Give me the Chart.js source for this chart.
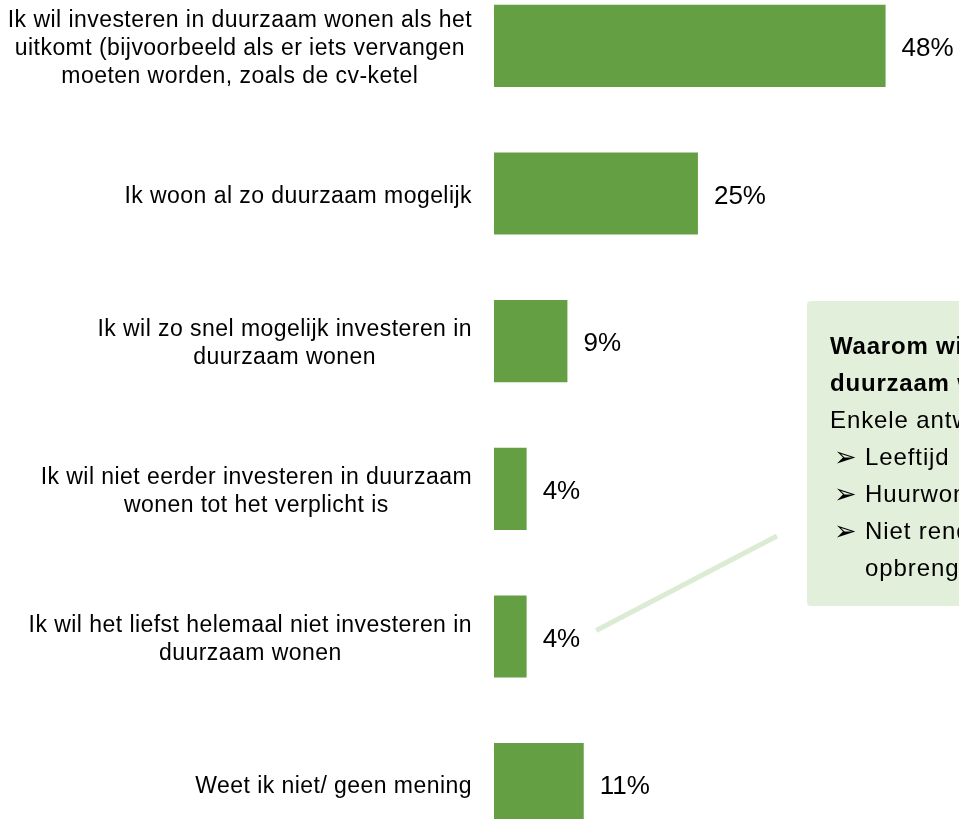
<!DOCTYPE html>
<html lang="nl">
<head>
<meta charset="utf-8">
<title>Investeren in duurzaam wonen</title>
<script src="https://cdn.jsdelivr.net/npm/chart.js@4"></script>
<style>
    html, body {
        margin: 0;
        padding: 0;
        width: 959px;
        height: 819px;
        overflow: hidden;
        background: #ffffff;
        font-family: "Liberation Sans", Arial, sans-serif;
    }
    .chart-wrap {
        position: absolute;
        left: 0;
        top: -28px;
        width: 959px;
        height: 886px;
    }
    .callout {
        position: absolute;
        left: 807px;
        top: 301px;
        width: 320px;
        height: 305px;
        background: #e2efda;
        border-radius: 4px;
        padding: 26px 0 0 23px;
        box-sizing: border-box;
        white-space: nowrap;
        color: #000;
        line-height: 37px;
    }
    .callout .title {
        font-weight: bold;
        font-size: 24px;
        letter-spacing: 0.8px;
    }
    .callout .line {
        font-size: 24px;
        letter-spacing: 0.9px;
    }
    .callout .bullet {
        display: inline-block;
        width: 31px;
        margin-left: 4px;
        font-family: "DejaVu Sans", sans-serif;
        font-size: 27px;
        line-height: 37px;
        vertical-align: top;
        letter-spacing: 0;
    }
    .callout .indent {
        padding-left: 35px;
    }
</style>
</head>
<body>

<div class="chart-wrap">
    <canvas id="surveyChart" width="959" height="886"></canvas>
</div>

<div class="callout" id="callout">
    <div class="title">Waarom wilt u niet investeren in</div>
    <div class="title">duurzaam wonen?</div>
    <div class="line">Enkele antwoorden:</div>
    <div class="line"><span class="bullet">&#10146;</span>Leeftijd</div>
    <div class="line"><span class="bullet">&#10146;</span>Huurwoning</div>
    <div class="line"><span class="bullet">&#10146;</span>Niet rendabel, kost meer dan het</div>
    <div class="line indent">opbrengt</div>
</div>

<script>
// Answer categories (each entry is one wrapped label)
const categories = [
    ['Ik wil investeren in duurzaam wonen als het', 'uitkomt (bijvoorbeeld als er iets vervangen', 'moeten worden, zoals de cv-ketel'],
    ['Ik woon al zo duurzaam mogelijk'],
    ['Ik wil zo snel mogelijk investeren in', 'duurzaam wonen'],
    ['Ik wil niet eerder investeren in duurzaam', 'wonen tot het verplicht is'],
    ['Ik wil het liefst helemaal niet investeren in', 'duurzaam wonen'],
    ['Weet ik niet/ geen mening']
];

// Share of respondents (%)
const percentages = [48, 25, 9, 4, 4, 11];

const barColor = '#64a043';
const calloutLineColor = '#dcecd4';

// Category labels, right-aligned block with centred lines
const categoryLabels = {
    id: 'categoryLabels',
    afterDraw(chart) {
        const ctx = chart.ctx;
        const yScale = chart.scales.y;
        const right = chart.chartArea.left - 22;
        const lineHeight = 28;
        ctx.save();
        ctx.font = '23px "Liberation Sans", Arial, sans-serif';
        ctx.letterSpacing = '0.45px';
        ctx.fillStyle = '#000000';
        ctx.textAlign = 'center';
        ctx.textBaseline = 'alphabetic';
        categories.forEach((lines, i) => {
            const cy = yScale.getPixelForValue(i);
            const widest = Math.max(...lines.map(l => ctx.measureText(l).width));
            const cx = right - widest / 2;
            lines.forEach((line, j) => {
                const mid = cy + (j - (lines.length - 1) / 2) * lineHeight;
                ctx.fillText(line, cx, mid + 9);
            });
        });
        ctx.restore();
    }
};

// Value labels at the end of each bar, plus the connector to the callout
const valueLabels = {
    id: 'valueLabels',
    afterDatasetsDraw(chart) {
        const ctx = chart.ctx;
        const meta = chart.getDatasetMeta(0);
        ctx.save();
        ctx.font = '26px "Liberation Sans", Arial, sans-serif';
        ctx.fillStyle = '#000000';
        ctx.textAlign = 'left';
        ctx.textBaseline = 'alphabetic';
        meta.data.forEach((bar, i) => {
            ctx.fillText(percentages[i] + '%', bar.x + 16, bar.y + 10);
        });

        // connector from the "4%" label of the 5th answer to the callout box
        const target = meta.data[4];
        const labelW = ctx.measureText(percentages[4] + '%').width;
        const wrapTop = -28;
        const x0 = target.x + 16 + labelW + 16;
        const y0 = target.y - 6;
        const x1 = 777;
        const y1 = 536 - wrapTop;
        ctx.strokeStyle = calloutLineColor;
        ctx.lineWidth = 5;
        ctx.beginPath();
        ctx.moveTo(x0, y0);
        ctx.lineTo(x1, y1);
        ctx.stroke();
        ctx.restore();
    }
};

const ctx = document.getElementById('surveyChart').getContext('2d');
new Chart(ctx, {
    type: 'bar',
    data: {
        labels: categories,
        datasets: [{
            data: percentages,
            backgroundColor: barColor,
            borderWidth: 0,
            barPercentage: 0.556,
            categoryPercentage: 1
        }]
    },
    options: {
        indexAxis: 'y',
        responsive: false,
        maintainAspectRatio: false,
        devicePixelRatio: 1,
        animation: false,
        layout: {
            padding: { left: 494, right: 0, top: 0, bottom: 0 }
        },
        plugins: {
            legend: { display: false },
            tooltip: { enabled: false }
        },
        scales: {
            x: {
                display: false,
                min: 0,
                max: 57
            },
            y: {
                display: false
            }
        }
    },
    plugins: [categoryLabels, valueLabels]
});
</script>
</body>
</html>
